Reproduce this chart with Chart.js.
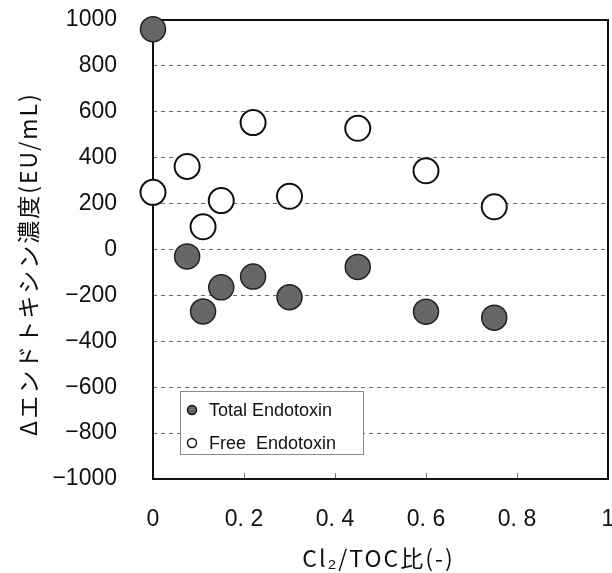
<!DOCTYPE html>
<html>
<head>
<meta charset="utf-8">
<script src="https://cdn.jsdelivr.net/npm/chart.js@4"></script>
<style>
  html, body { margin: 0; padding: 0; background: #fff; }
  #wrap { width: 612px; height: 573px; }
</style>
</head>
<body>
<div id="wrap"><canvas id="c" width="612" height="573"></canvas></div>
<script>
// ---- data ----
const ratios = [0, 0.075, 0.11, 0.15, 0.22, 0.3, 0.45, 0.6, 0.75];
const totalEndotoxin = [960, -30, -270, -165, -118, -208, -76, -271, -297];
const freeEndotoxin = [249, 362, 99, 213, 553, 232, 528, 343, 186];
const seriesLabels = ['Total Endotoxin', 'Free  Endotoxin'];
const xTickValues = [0, 0.2, 0.4, 0.6, 0.8, 1];
const xTickLabels = ['0', '0. 2', '0. 4', '0. 6', '0. 8', '1'];
const yTitle = 'Δエンドトキシン濃度(EU/mL)';
const xTitle = 'Cl₂/TOC比(-)';

const toPoints = (xs, ys) => xs.map((x, i) => ({ x: x, y: ys[i] }));

const tickFont = { family: '"Liberation Sans", Arial, sans-serif', size: 23 };

const framePlugin = {
  id: 'frame',
  beforeDatasetsDraw(chart) {
    const { ctx, chartArea: a, scales } = chart;
    ctx.save();
    // inner tick marks on x axis
    ctx.strokeStyle = '#777';
    ctx.lineWidth = 1;
    scales.x.ticks.forEach(t => {
      if (t.value <= 0 || t.value >= 1) return;
      const px = Math.round(scales.x.getPixelForValue(t.value)) + 0.5;
      ctx.beginPath();
      ctx.moveTo(px, a.bottom);
      ctx.lineTo(px, a.bottom - 6);
      ctx.stroke();
    });
    // frame
    ctx.strokeStyle = '#111';
    ctx.lineWidth = 2;
    ctx.strokeRect(a.left, a.top, a.right - a.left, a.bottom - a.top);
    ctx.restore();
  },
  afterDraw(chart) {
    const { ctx, chartArea: a, data } = chart;
    ctx.save();
    // axis titles
    ctx.fillStyle = '#111';
    ctx.textAlign = 'center';
    ctx.textBaseline = 'middle';
    ctx.font = '23px "Noto Sans CJK JP", sans-serif';
    ctx.letterSpacing = '2px';
    ctx.save();
    ctx.translate(28, 264);
    ctx.rotate(-Math.PI / 2);
    ctx.fillText(yTitle, 0, 0);
    ctx.restore();
    ctx.font = '23px "Noto Sans CJK JP", sans-serif';
    ctx.letterSpacing = '2px';
    ctx.fillText(xTitle, (a.left + a.right) / 2 - 2, 558);
    ctx.letterSpacing = '0px';
    // legend
    const lx = a.left + 27, ly = a.top + 371, lw = 183, lh = 63;
    ctx.fillStyle = '#fff';
    ctx.fillRect(lx, ly, lw, lh);
    ctx.strokeStyle = '#8a8a8a';
    ctx.lineWidth = 1;
    ctx.strokeRect(lx + 0.5, ly + 0.5, lw, lh);
    ctx.font = '18px "Liberation Sans", Arial, sans-serif';
    ctx.textAlign = 'left';
    data.datasets.forEach((ds, i) => {
      const cy = ly + 19 + i * 33;
      ctx.beginPath();
      ctx.arc(lx + 12, cy, 4.5, 0, Math.PI * 2);
      ctx.fillStyle = ds.backgroundColor;
      ctx.fill();
      ctx.lineWidth = 1.5;
      ctx.strokeStyle = '#111';
      ctx.stroke();
      ctx.fillStyle = '#111';
      ctx.fillText(ds.label, lx + 29, cy + 1);
    });
    ctx.restore();
  }
};

new Chart(document.getElementById('c'), {
  type: 'scatter',
  data: {
    datasets: [
      {
        label: seriesLabels[0],
        data: toPoints(ratios, totalEndotoxin),
        backgroundColor: '#676767',
        borderColor: '#222',
        borderWidth: 1.5,
        pointRadius: 12.5,
        pointHoverRadius: 12.5,
        clip: false
      },
      {
        label: seriesLabels[1],
        data: toPoints(ratios, freeEndotoxin),
        backgroundColor: '#ffffff',
        borderColor: '#111',
        borderWidth: 2,
        pointRadius: 12.5,
        pointHoverRadius: 12.5,
        clip: false
      }
    ]
  },
  options: {
    responsive: false,
    animation: false,
    events: [],
    layout: { autoPadding: false, padding: { top: 20, right: 4, left: 0, bottom: 0 } },
    plugins: { legend: { display: false }, tooltip: { enabled: false } },
    scales: {
      x: {
        type: 'linear',
        min: 0, max: 1,
        afterBuildTicks(scale) { scale.ticks = xTickValues.map(v => ({ value: v })); },
        afterFit(scale) {
          scale.height = 94;
          scale.paddingLeft = 0; scale.paddingRight = 0;
          scale.paddingTop = 0; scale.paddingBottom = 0;
        },
        ticks: {
          color: '#111',
          font: tickFont,
          padding: 27,
          maxRotation: 0,
          autoSkip: false,
          callback(v) { const i = xTickValues.indexOf(v); return i >= 0 ? xTickLabels[i] : ''; }
        },
        grid: { display: false, drawTicks: false },
        border: { display: false }
      },
      y: {
        min: -1000, max: 1000,
        afterFit(scale) {
          scale.width = 153;
          scale.paddingLeft = 0; scale.paddingRight = 0;
          scale.paddingTop = 0; scale.paddingBottom = 0;
        },
        ticks: {
          stepSize: 200,
          color: '#111',
          font: tickFont,
          padding: 36,
          callback(v) { return v < 0 ? '−' + Math.abs(v) : String(v); }
        },
        grid: { color: '#6a6a6a', lineWidth: 1, drawTicks: false },
        border: { display: false, dash: [4, 4] }
      }
    }
  },
  plugins: [framePlugin]
});
</script>
</body>
</html>
